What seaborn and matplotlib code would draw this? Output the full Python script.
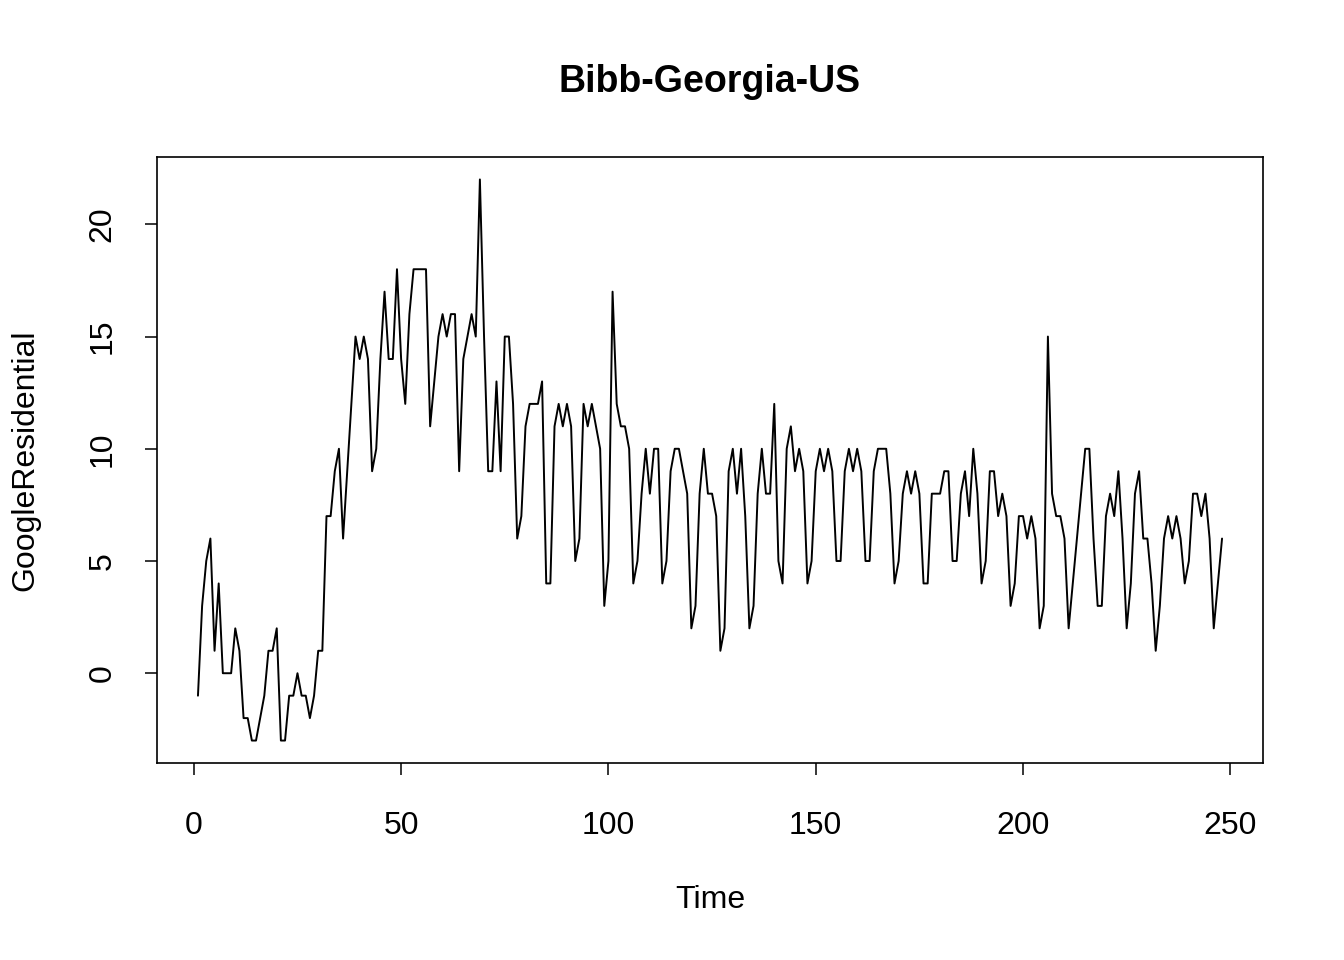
import numpy as np
import pandas as pd
import matplotlib
matplotlib.use("Agg")
import matplotlib.pyplot as plt
import seaborn as sns

# daily values (days 1..248)
residential = [
    -1, 3, 5, 6, 1, 4, 0, 0, 0, 2,
    1, -2, -2, -3, -3, -2, -1, 1, 1, 2,
    -3, -3, -1, -1, 0, -1, -1, -2, -1, 1,
    1, 7, 7, 9, 10, 6, 9, 12, 15, 14,
    15, 14, 9, 10, 14, 17, 14, 14, 18, 14,
    12, 16, 18, 18, 18, 18, 11, 13, 15, 16,
    15, 16, 16, 9, 14, 15, 16, 15, 22, 15,
    9, 9, 13, 9, 15, 15, 12, 6, 7, 11,
    12, 12, 12, 13, 4, 4, 11, 12, 11, 12,
    11, 5, 6, 12, 11, 12, 11, 10, 3, 5,
    17, 12, 11, 11, 10, 4, 5, 8, 10, 8,
    10, 10, 4, 5, 9, 10, 10, 9, 8, 2,
    3, 8, 10, 8, 8, 7, 1, 2, 9, 10,
    8, 10, 7, 2, 3, 8, 10, 8, 8, 12,
    5, 4, 10, 11, 9, 10, 9, 4, 5, 9,
    10, 9, 10, 9, 5, 5, 9, 10, 9, 10,
    9, 5, 5, 9, 10, 10, 10, 8, 4, 5,
    8, 9, 8, 9, 8, 4, 4, 8, 8, 8,
    9, 9, 5, 5, 8, 9, 7, 10, 8, 4,
    5, 9, 9, 7, 8, 7, 3, 4, 7, 7,
    6, 7, 6, 2, 3, 15, 8, 7, 7, 6,
    2, 4, 6, 8, 10, 10, 6, 3, 3, 7,
    8, 7, 9, 6, 2, 4, 8, 9, 6, 6,
    4, 1, 3, 6, 7, 6, 7, 6, 4, 5,
    8, 8, 7, 8, 6, 2, 4, 6,
]
time = list(range(1, len(residential) + 1))

x_ticks = [0, 50, 100, 150, 200, 250]
y_ticks = [0, 5, 10, 15, 20]

df = pd.DataFrame({"Time": time, "GoogleResidential": residential})

sns.set_theme(style="white")
plt.rcParams["font.family"] = ["Liberation Sans", "DejaVu Sans"]

fig = plt.figure(figsize=(13.44, 9.6), dpi=100)
ax = fig.add_axes([157 / 1344, 1 - 763 / 960, (1263 - 157) / 1344, (763 - 157) / 960])

sns.lineplot(data=df, x="Time", y="GoogleResidential", ax=ax,
             color="black", linewidth=1.4)

# R-style 4% padding around the data range
span_x = max(time) - min(time)
span_y = max(residential) - min(residential)
ax.set_xlim(min(time) - 0.04 * span_x, max(time) + 0.04 * span_x)
ax.set_ylim(min(residential) - 0.04 * span_y, max(residential) + 0.04 * span_y)

ax.set_xticks(x_ticks)
ax.set_yticks(y_ticks)
ax.set_yticklabels([str(v) for v in y_ticks], rotation=90, va="center")
ax.tick_params(axis="both", direction="out", length=8.5, width=1.1,
               color="black", labelsize=23, labelcolor="black",
               bottom=True, left=True)
ax.tick_params(axis="x", pad=26)
ax.tick_params(axis="y", pad=20)

for side in ax.spines.values():
    side.set_color("black")
    side.set_linewidth(1.2)
    side.set_visible(True)

ax.set_xlabel("Time", fontsize=23, color="black")
ax.set_ylabel("GoogleResidential", fontsize=23, color="black")
ax.xaxis.set_label_coords(0.5, (763 - 900) / 606)
ax.xaxis.label.set_va("center")
ax.yaxis.set_label_coords((25 - 157) / 1106, 0.5)
ax.yaxis.label.set_va("center")

fig.text(710 / 1344, 1 - 82 / 960, "Bibb-Georgia-US", ha="center", va="center",
         fontsize=27, fontweight="bold", color="black")

fig.savefig("out.png", dpi=100, facecolor="white")
